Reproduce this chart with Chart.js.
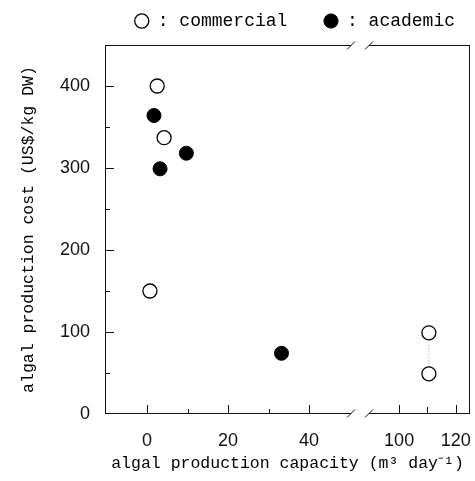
<!DOCTYPE html>
<html>
<head>
<meta charset="utf-8">
<script src="https://cdn.jsdelivr.net/npm/chart.js@4.4.0/dist/chart.umd.min.js"></script>
<style>
  html, body { margin: 0; padding: 0; background: #fff; }
  #wrap { width: 475px; height: 481px; }
</style>
</head>
<body>
<div id="wrap"><canvas id="c"></canvas></div>
<script>
// production capacity (m3/day) vs production cost (US$/kg DW)
const commercialCapacity = [2.5, 4.2, 0.7];
const commercialCost = [400, 337, 150];
// the two large commercial plants sit beyond the axis break
const commercialBigCapacity = [110.5, 110.5];
const commercialBigCost = [99, 49];
const academicCapacity = [1.7, 3.2, 9.7, 33.2];
const academicCost = [364, 299, 318, 74];

const xLeftTicks = [0, 20, 40];
const xRightTicks = [100, 120];
const yTicks = [0, 100, 200, 300, 400];
const xLeftMinor = [10, 30];
const xRightMinor = [110];
const yMinor = [50, 150, 250, 350];

const xTitle = 'algal production capacity (m³ day⁻¹)';
const yTitle = 'algal production cost (US$/kg DW)';

const pts = (xs, ys) => xs.map((x, i) => ({ x: x, y: ys[i] }));

const tickFont = { family: 'Liberation Sans', size: 18 };
const titleFont = { family: 'Liberation Mono', size: 16.5 };

// box frame with the axis break, inward tick marks, and the x title spanning both segments
const framePlugin = {
  id: 'frame',
  beforeDatasetsDraw(chart) {
    const { ctx, chartArea: a, scales } = chart;
    const brk = scales.x.right;
    const g = 9;
    ctx.save();
    ctx.strokeStyle = '#111';
    ctx.lineWidth = 1;
    ctx.beginPath();
    ctx.moveTo(a.left + 0.5, a.top); ctx.lineTo(a.left + 0.5, a.bottom);
    ctx.moveTo(a.right - 0.5, a.top); ctx.lineTo(a.right - 0.5, a.bottom);
    [a.top + 0.5, a.bottom - 0.5].forEach(y => {
      ctx.moveTo(a.left, y); ctx.lineTo(brk - g, y);
      ctx.moveTo(brk + g, y); ctx.lineTo(a.right, y);
      [brk - g, brk + g].forEach(bx => {
        ctx.moveTo(bx - 4, y + 4); ctx.lineTo(bx + 4, y - 4);
      });
    });
    const mark = (scale, vals, len) => {
      vals.forEach(v => {
        const p = Math.round(scale.getPixelForValue(v)) + 0.5;
        if (scale.isHorizontal()) {
          ctx.moveTo(p, a.bottom); ctx.lineTo(p, a.bottom - len);
        } else {
          ctx.moveTo(a.left, p); ctx.lineTo(a.left + len, p);
        }
      });
    };
    mark(scales.x, xLeftTicks, 9);
    mark(scales.x, xLeftMinor, 5);
    mark(scales.x2, xRightTicks, 9);
    mark(scales.x2, xRightMinor, 7);
    mark(scales.y, yTicks.slice(1), 9);
    mark(scales.y, yMinor, 5);
    ctx.stroke();

    ctx.fillStyle = '#000';
    ctx.font = titleFont.size + 'px "' + titleFont.family + '"';
    ctx.textAlign = 'center';
    ctx.textBaseline = 'middle';
    ctx.fillText(xTitle, (a.left + a.right) / 2, 464);
    ctx.restore();
  }
};

const openPoint = { backgroundColor: '#fff', borderColor: '#000', borderWidth: 1.3, pointRadius: 7 };

const xCommon = {
  type: 'linear', position: 'bottom', stack: 'cap',
  grid: { display: false, drawTicks: true, tickLength: 16 },
  border: { display: false },
  ticks: { font: tickFont, color: '#111', padding: 0, includeBounds: false },
  afterFit: s => { s.height = 67; s.paddingLeft = 0; s.paddingRight = 0; }
};

new Chart(document.getElementById('c'), {
  type: 'scatter',
  data: {
    datasets: [
      Object.assign({ label: ': commercial', data: pts(commercialCapacity, commercialCost), xAxisID: 'x' }, openPoint),
      { label: ': academic', data: pts(academicCapacity, academicCost), xAxisID: 'x',
        backgroundColor: '#000', borderColor: '#000', borderWidth: 1, pointRadius: 7 },
      { label: 'commercial large', data: pts(commercialBigCapacity, commercialBigCost), xAxisID: 'x2',
        showLine: true, borderColor: '#999', borderWidth: 1, borderDash: [1, 2],
        pointBackgroundColor: '#fff', pointBorderColor: '#000', pointBorderWidth: 1.3, pointRadius: 7 }
    ]
  },
  options: {
    responsive: true,
    maintainAspectRatio: false,
    animation: false,
    layout: { autoPadding: false, padding: { top: -3, right: 5, left: 0, bottom: 0 } },
    plugins: {
      tooltip: { enabled: false },
      legend: {
        position: 'top',
        align: 'end',
        weight: 3000,
        labels: {
          usePointStyle: true,
          pointStyle: 'circle',
          boxWidth: 14,
          boxHeight: 10,
          padding: 15,
          color: '#000',
          font: { family: 'Liberation Mono', size: 18 },
          filter: item => item.datasetIndex < 2,
          generateLabels: chart => {
            const items = Chart.defaults.plugins.legend.labels.generateLabels(chart);
            items[0].text = items[0].text + '  ';
            return items;
          }
        }
      },
      // empty spacer between legend and plot frame
      subtitle: { display: true, text: '', font: { size: 4, lineHeight: 1 }, padding: { top: 0, bottom: 1 } }
    },
    scales: {
      x: Object.assign({}, xCommon, {
        stackWeight: 255, min: -10.4, max: 52.6,
        afterBuildTicks: s => { s.ticks = xLeftTicks.map(v => ({ value: v })); }
      }),
      x2: Object.assign({}, xCommon, {
        stackWeight: 110, min: 86.2, max: 125,
        afterBuildTicks: s => { s.ticks = xRightTicks.map(v => ({ value: v })); }
      }),
      y: {
        type: 'linear', position: 'left', min: 0, max: 450,
        grid: { display: false }, border: { display: false },
        ticks: { font: tickFont, color: '#111', padding: 7 },
        afterBuildTicks: s => { s.ticks = yTicks.map(v => ({ value: v })); },
        afterFit: s => { s.width = 105; },
        title: { display: true, text: yTitle,
                 font: titleFont, color: '#000', padding: { top: 19, bottom: 0 } }
      }
    }
  },
  plugins: [framePlugin]
});
</script>
</body>
</html>
